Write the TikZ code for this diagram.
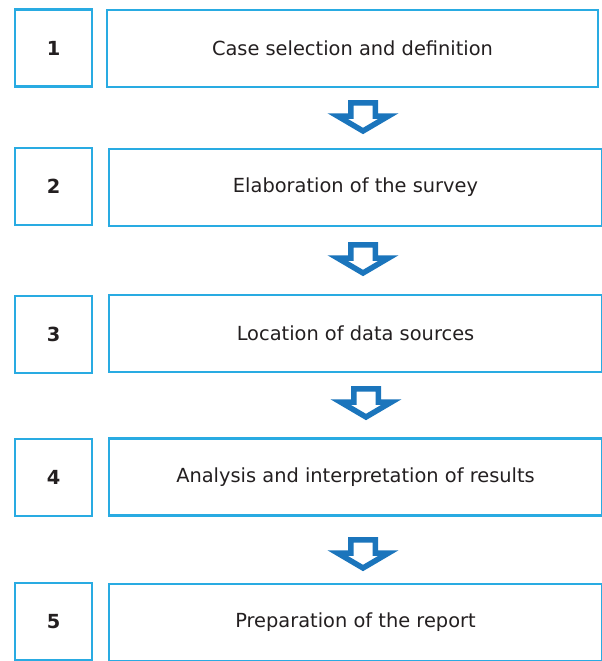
\documentclass[tikz,border=0pt]{standalone}
\usepackage{fontspec}
\setmainfont{DejaVu Sans}
\definecolor{boxcyan}{HTML}{29ABE2}
\definecolor{arrowblue}{HTML}{1B75BC}
\definecolor{inkgray}{HTML}{231F20}
\tikzset{
  numbox/.style={draw=boxcyan, line width=2.4pt, minimum width=77pt, minimum height=77pt,
    inner sep=0pt, text=inkgray, font=\fontsize{19.4}{22}\selectfont\bfseries},
  stepbox/.style={draw=boxcyan, line width=2.4pt, minimum height=77pt,
    inner sep=0pt, text=inkgray, font=\fontsize{19.4}{22}\selectfont},
  hollowarrow/.pic={
    \draw[arrowblue, fill=white, line width=5.5pt, line join=miter]
      (-12.25,-14.75) -- (12.25,-14.75) -- (12.25,-1.5) -- (25.5,-1.5) -- (0,13.5)
      -- (-25.5,-1.5) -- (-12.25,-1.5) -- cycle;
  }
}
\begin{document}
\begin{tikzpicture}[x=1pt, y=-1pt]
  \useasboundingbox (0,0) rectangle (602,661);
  % steps
  \node[numbox] (n1) at (53.5,48) {1};
  \node[stepbox, minimum width=491pt] (s1) at (352.5,48.5) {Case selection and definition};
  \node[numbox] (n2) at (53.5,186.5) {2};
  \node[stepbox, minimum width=493pt] (s2) at (355.5,187.5) {Elaboration of the survey};
  \node[numbox] (n3) at (53.5,334.5) {3};
  \node[stepbox, minimum width=493pt] (s3) at (355.5,333.5) {Location of data sources};
  \node[numbox] (n4) at (53.5,477.5) {4};
  \node[stepbox, minimum width=493pt] (s4) at (355.5,477) {Analysis and interpretation of results};
  \node[numbox] (n5) at (53.5,621.5) {5};
  \node[stepbox, minimum width=493pt] (s5) at (355.5,622.5) {Preparation of the report};
  % arrows between the steps
  \pic (a1) at (363,117.5) {hollowarrow};
  \pic (a2) at (363,259.5) {hollowarrow};
  \pic (a3) at (366,403.5) {hollowarrow};
  \pic (a4) at (363,554.5) {hollowarrow};
\end{tikzpicture}
\end{document}
